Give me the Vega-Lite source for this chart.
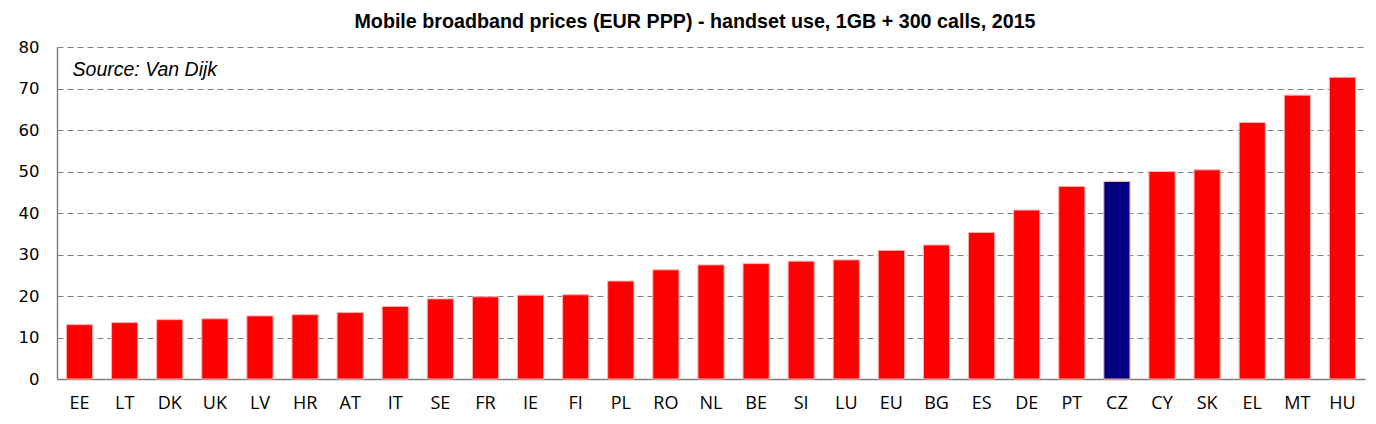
{
  "$schema": "https://vega.github.io/schema/vega-lite/v6.json",
  "width": 1308,
  "height": 332,
  "autosize": {"type": "none"},
  "padding": {"left": 57, "top": 47, "right": 11, "bottom": 45},
  "background": "white",
  "title": {
    "text": "Mobile broadband prices (EUR PPP) - handset use, 1GB + 300 calls, 2015",
    "font": "Liberation Sans",
    "fontSize": 19.7,
    "fontWeight": "bold",
    "color": "black",
    "anchor": "middle",
    "dx": -16,
    "offset": 7
  },
  "config": {
    "view": {"stroke": null},
    "axis": {"labelFont": "Liberation Sans", "labelColor": "black"}
  },
  "data": {
    "values": [
      {"country": "EE", "price": 13.1},
      {"country": "LT", "price": 13.6},
      {"country": "DK", "price": 14.3},
      {"country": "UK", "price": 14.5},
      {"country": "LV", "price": 15.2},
      {"country": "HR", "price": 15.5},
      {"country": "AT", "price": 16.0},
      {"country": "IT", "price": 17.5},
      {"country": "SE", "price": 19.3},
      {"country": "FR", "price": 19.8},
      {"country": "IE", "price": 20.2},
      {"country": "FI", "price": 20.3},
      {"country": "PL", "price": 23.6},
      {"country": "RO", "price": 26.3},
      {"country": "NL", "price": 27.5},
      {"country": "BE", "price": 27.8},
      {"country": "SI", "price": 28.4},
      {"country": "LU", "price": 28.7},
      {"country": "EU", "price": 31.0},
      {"country": "BG", "price": 32.3},
      {"country": "ES", "price": 35.3},
      {"country": "DE", "price": 40.7},
      {"country": "PT", "price": 46.4},
      {"country": "CZ", "price": 47.6},
      {"country": "CY", "price": 50.0},
      {"country": "SK", "price": 50.4},
      {"country": "EL", "price": 61.8},
      {"country": "MT", "price": 68.4},
      {"country": "HU", "price": 72.7}
    ]
  },
  "encoding": {
    "x": {
      "field": "country",
      "type": "nominal",
      "sort": null,
      "scale": {"paddingInner": 0.42, "paddingOuter": 0.21},
      "axis": {
        "title": null,
        "labelAngle": 0,
        "ticks": false,
        "labelPadding": 15,
        "labelFontSize": 18,
        "labelFont": "Open Sans",
        "domainColor": "#808080",
        "domainWidth": 1.5
      }
    }
  },
  "layer": [
    {
      "mark": {"type": "bar", "stroke": "#ffb0b0", "strokeWidth": 1},
      "encoding": {
        "y": {
          "field": "price",
          "type": "quantitative",
          "scale": {"domain": [0, 80]},
          "axis": {
            "title": null,
            "values": [0, 10, 20, 30, 40, 50, 60, 70, 80],
            "ticks": false,
            "labelPadding": 18,
            "labelFontSize": 16.5,
            "labelFont": "DejaVu Sans",
            "domainColor": "#808080",
            "domainWidth": 1.5,
            "gridColor": "#808080",
            "gridDash": [6, 4],
            "gridWidth": 1
          }
        },
        "color": {
          "condition": {"test": "datum.country === 'CZ'", "value": "#000080"},
          "value": "#ff0000"
        }
      }
    },
    {
      "data": {"values": [{"note": "Source: Van Dijk", "anchor": "EE", "level": 74.5}]},
      "mark": {
        "type": "text",
        "align": "left",
        "baseline": "middle",
        "font": "Liberation Sans",
        "fontSize": 19.5,
        "fontStyle": "italic",
        "fill": "black",
        "dx": -7
      },
      "encoding": {
        "x": {"field": "anchor", "type": "nominal"},
        "y": {"field": "level", "type": "quantitative"},
        "text": {"field": "note"}
      }
    }
  ]
}
